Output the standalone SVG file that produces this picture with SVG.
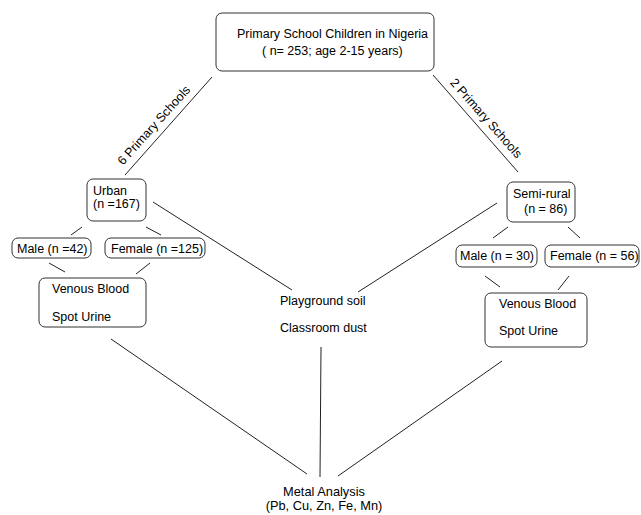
<svg xmlns="http://www.w3.org/2000/svg" width="641" height="515" viewBox="0 0 641 515">
<style>
  .box { fill: #ffffff; stroke: #333333; stroke-width: 1; }
  .t { font-family: "Liberation Sans", Arial, sans-serif; font-size: 12.5px; fill: #000000; }
  .big { font-size: 12.8px; }
  .c line { stroke: #222222; stroke-width: 1; fill: none; }
</style>
<rect width="641" height="515" fill="#ffffff"/>
<g id="connectors" class="c">
  <line x1="212" y1="77" x2="125" y2="175"/>
  <line x1="433" y1="75" x2="518" y2="172"/>
  <line x1="82" y1="227" x2="71" y2="235"/>
  <line x1="146" y1="227" x2="161" y2="235"/>
  <line x1="49" y1="263" x2="65" y2="272"/>
  <line x1="150" y1="263" x2="136" y2="274"/>
  <line x1="153" y1="202" x2="292" y2="290"/>
  <line x1="497" y1="203" x2="358" y2="292"/>
  <line x1="508" y1="227" x2="493" y2="238"/>
  <line x1="568" y1="227" x2="580" y2="238"/>
  <line x1="485" y1="276" x2="500" y2="287"/>
  <line x1="569" y1="276" x2="558" y2="290"/>
  <line x1="111" y1="339" x2="307" y2="474"/>
  <line x1="321" y1="347" x2="320" y2="477"/>
  <line x1="502" y1="361" x2="338" y2="476"/>
</g>
<g id="edge-labels">
  <text class="t" x="157" y="128" text-anchor="middle" transform="rotate(-48 157 128)">6 Primary Schools</text>
  <text class="t" x="483" y="121" text-anchor="middle" transform="rotate(48.5 483 121)">2 Primary Schools</text>
</g>
<g id="top">
  <rect class="box" x="216" y="13" width="218" height="58" rx="6"/>
  <text class="t" x="237" y="38">Primary School Children in Nigeria</text>
  <text class="t" x="262" y="55">( n= 253; age 2-15 years)</text>
</g>
<g id="urban">
  <rect class="box" x="87" y="179" width="59" height="42" rx="6"/>
  <text class="t" x="93" y="195">Urban</text>
  <text class="t" x="93" y="208">(n =167)</text>
</g>
<g id="male-urban">
  <rect class="box" x="12" y="238" width="79" height="20" rx="6"/>
  <text class="t" x="17" y="253">Male (n =42)</text>
</g>
<g id="female-urban">
  <rect class="box" x="105" y="238" width="100" height="20" rx="6"/>
  <text class="t" x="111" y="253">Female (n =125)</text>
</g>
<g id="samples-urban">
  <rect class="box" x="39" y="278" width="107" height="49" rx="6"/>
  <text class="t" x="52" y="293">Venous Blood</text>
  <text class="t" x="52" y="321">Spot Urine</text>
</g>
<g id="semirural">
  <rect class="box" x="507" y="182" width="68" height="40" rx="6"/>
  <text class="t" x="513" y="198">Semi-rural</text>
  <text class="t" x="524" y="213">(n = 86)</text>
</g>
<g id="male-semirural">
  <rect class="box" x="456" y="245" width="81" height="22" rx="6"/>
  <text class="t" x="460" y="260">Male (n = 30)</text>
</g>
<g id="female-semirural">
  <rect class="box" x="545" y="245" width="94" height="22" rx="6"/>
  <text class="t" x="550" y="260">Female (n = 56)</text>
</g>
<g id="samples-semirural">
  <rect class="box" x="485" y="293" width="102" height="54" rx="6"/>
  <text class="t" x="499" y="308">Venous Blood</text>
  <text class="t" x="499" y="335">Spot Urine</text>
</g>
<g id="environment">
  <text class="t" x="280" y="305">Playground soil</text>
  <text class="t" x="280" y="332">Classroom dust</text>
</g>
<g id="metal">
  <text class="t big" x="324" y="496" text-anchor="middle">Metal Analysis</text>
  <text class="t big" x="324" y="510" text-anchor="middle">(Pb, Cu, Zn, Fe, Mn)</text>
</g>
</svg>
